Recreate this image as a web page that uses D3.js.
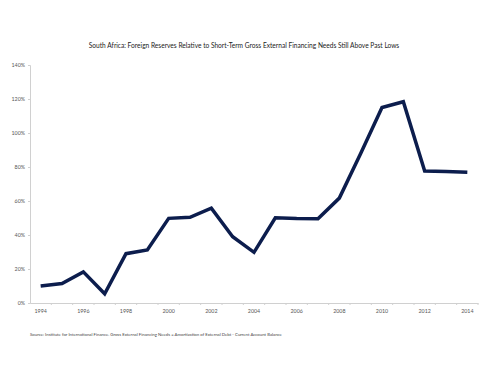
<!DOCTYPE html>
<html>
<head>
<meta charset="utf-8">
<script src="https://cdn.jsdelivr.net/npm/d3@7"></script>
<style>
  body { margin: 0; background: #fff; }
  text { font-family: Lato, "Open Sans", sans-serif; }
</style>
</head>
<body>
<script>
var years = ["1994","1995","1996","1997","1998","1999","2000","2001","2002","2003","2004",
             "2005","2006","2007","2008","2009","2010","2011","2012","2013","2014"];
var reserves = [10, 11.5, 18.3, 5.4, 29, 31.2, 49.8, 50.4, 55.8, 39, 29.8,
                50.1, 49.7, 49.6, 61.7, 88, 115, 118.4, 77.6, 77.4, 76.9];
var yTicks = [0, 20, 40, 60, 80, 100, 120, 140];
var xLabels = ["1994","1996","1998","2000","2002","2004","2006","2008","2010","2012","2014"];

var w = 500, h = 375;
var mLeft = 30, mRight = 478, mTop = 65, mBottom = 303;

var svg = d3.select('body').append('svg').attr('width', w).attr('height', h);

var x = d3.scaleBand().domain(years).range([mLeft, mRight]);
var y = d3.scaleLinear().domain([0, 140]).range([mBottom, mTop]);

svg.append('text')
    .attr('x', 244).attr('y', 48)
    .attr('text-anchor', 'middle')
    .attr('font-size', 6.6)
    .attr('fill', '#222')
    .text('South Africa: Foreign Reserves Relative to Short-Term Gross External Financing Needs Still Above Past Lows');

// y axis
var yAxis = svg.append('g').attr('transform', 'translate(' + mLeft + ',0)')
    .call(d3.axisLeft(y).tickValues(yTicks).tickSize(2).tickFormat(function(d) { return d + '%'; }));
yAxis.select('.domain').attr('stroke', '#d0d0d0');
yAxis.selectAll('.tick line').attr('stroke', '#d0d0d0');
yAxis.selectAll('text').attr('font-size', 5.3).attr('fill', '#555').attr('x', -5)
    .style('font-family', 'Lato, sans-serif');

// x axis
var xAxis = svg.append('g').attr('transform', 'translate(0,' + mBottom + ')')
    .call(d3.axisBottom(x).tickValues(xLabels).tickSize(0).tickPadding(6));
xAxis.select('.domain').attr('stroke', '#d0d0d0');
xAxis.selectAll('text').attr('font-size', 5.3).attr('fill', '#555')
    .style('font-family', 'Lato, sans-serif');
// ticks at band edges
svg.append('g').selectAll('line')
    .data(years)
    .enter().append('line')
    .attr('x1', function(d) { return x(d) + x.step(); })
    .attr('x2', function(d) { return x(d) + x.step(); })
    .attr('y1', mBottom).attr('y2', mBottom + 2)
    .attr('stroke', '#d0d0d0');

var line = d3.line()
    .x(function(d, i) { return x(years[i]) + x.bandwidth() / 2; })
    .y(function(d) { return y(d); });

svg.append('path')
    .datum(reserves)
    .attr('d', line)
    .attr('fill', 'none')
    .attr('stroke', '#0c1d4d')
    .attr('stroke-width', 3.5)
    .attr('stroke-linejoin', 'miter');

svg.append('text')
    .attr('x', 30).attr('y', 336)
    .attr('font-size', 4.3)
    .attr('fill', '#444')
    .text('Source: Institute for International Finance. Gross External Financing Needs = Amortization of External Debt - Current Account Balance');
</script>
</body>
</html>
